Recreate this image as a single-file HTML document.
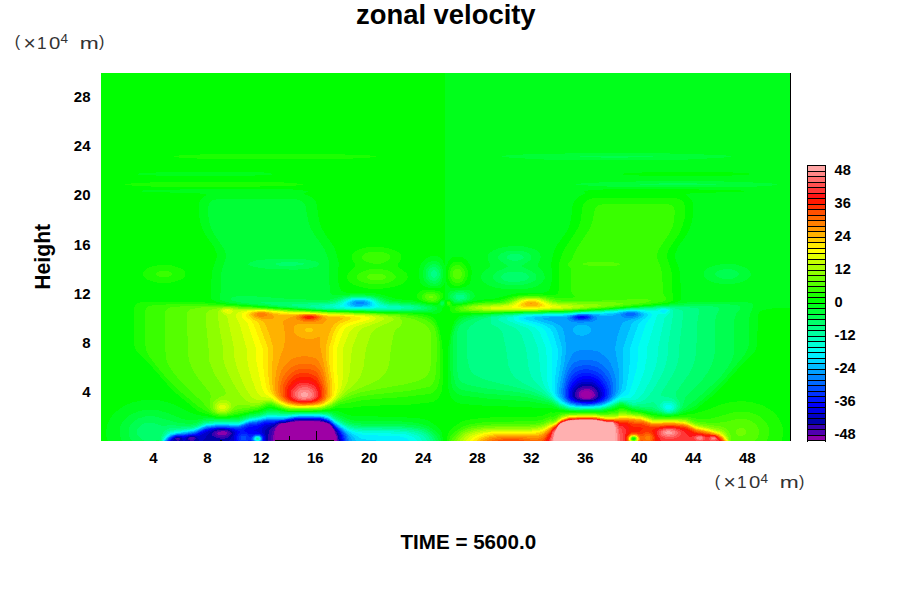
<!DOCTYPE html>
<html><head><meta charset="utf-8"><title>zonal velocity</title>
<style>
html,body{margin:0;padding:0;background:#fff}
svg{display:block}
text{font-family:"Liberation Sans",sans-serif;font-weight:700;fill:#000}
text.u{font-weight:400;fill:#333}
</style></head><body>
<svg width="900" height="600" viewBox="0 0 900 600">
<rect width="900" height="600" fill="#fff"/>
<g transform="translate(101,73) scale(0.5)" shape-rendering="crispEdges">
<rect width="1378" height="736" fill="#00ff1b"/>
<path fill="#00ff00" d="M0 0l689 0 -1 386 0 1 -1-3 -4-10 -5-5 -4-2 -6-1 -10 1 -10 5 -7 8 -4 10 -1 12 1 10 2 8 5 5 5 3 17 3 13-1 5-4 4-9 1 37 9 1 6 7 2 0 18-1 32-7 32-3 24-6 18-4 24-2 32 0 4-1 5-2 3-6 4-16 1-10 -3-22 6-26 6-12 18-25 6-12 4-14 3-27 4-10 3-4 4-4 13-6 2-2 -4-2 0-2 16-2 23-1 128-1 128 2 38 2 -24 2 -87 2 -17 2 0 2 8 6 5 8 1 10 0 16 -3 16 -5 14 -5 10 -17 24 -5 12 -1 6 1 6 7 18 2 12 2 36 1 10 -1 4 -1 2 -7 4 -14 3 -26 3 -125 10 -61 3 -174 5 -24 2 -10 2 -4 2 -6 6 -5 12 -4 16 -4 24 -1 18 -1 22 1 30 1 16 4 14 5 8 8 5 10 3 52 4 78 2 30 3 18-1 18 4 18 2 14 1 56 0 20-5 8-3 2-2 6 0 20 7 60 11 16 1 14-2 30-8 8-4 10-8 26-21 12-11 42-47 27-27 3-6 2-8 2-54 1-8 3-5 7-3 17-3 36-2 0 267 -694 0 -2-16 -2-5 -4-5 -8-6 -10-7 -10-4 -10-2 -38-3 -94-2 -12-2 -18-7 -6-1 -14-1 -24 2 -60 0 -34-7 -6 1 -16 6 -20 4 -20 6 -24 3 -16 0 -44-6 -14-5 -28-14 -12-5 -20-5 -20-1 -18 1 -18 4 -16 7 -14 10 -7 6 -6 8 -7 14 -1 8 -1 8 1 8 3 8 -14 0zM134 198l-50 2 -16 2 13 2 29 1 100 2 98-2 27-1 13-2 -22-3 -60-1 -68-1zM96 234l-25 2 21 2 93 2 25 2 1 2 -9 6 -3 4 -2 4 -1 8 0 14 2 18 5 14 6 12 17 24 5 12 0 10 -8 24 -2 18 -1 36 1 4 6 4 15 4 16 2 166 12 238 7 10 0 6-2 3-3 2-6 5-5 1-9 -3-2 -6 1 -6 9 -4 0 -20-3 -26-6 -32-3 -24-7 -18-4 -26-2 -34 0 -5-1 -4-2 -3-5 -5-19 0-10 3-20 -6-24 -5-12 -17-24 -8-14 -4-14 -4-28 -3-10 -3-4 -5-4 -15-6 0-2 6-2 2-2 -30-3 -88-1 -76 0zM1109 198l65-1 66 1 49 2 14 2 -14 2 -27 1 -94 2 -92-2 -25-1 -14-2 19-2zM704 368l10-1 10 2 9 7 6 10 3 12 -2 14 -3 10 -7 5 -12 3 -14 1 -6-2 -2-1 -3-4 -2-6 -1-10 0-12 1-10 5-12 4-4z"/>
<path fill="#1cff00" d="M227 162l107-1 114 1 79 2 23 2 0 2 -23 2 -45 2 -134 1 -134-1 -46-2 -23-2 0-2 23-2zM127 218l75-1 92 0 72 2 38 3 -1 2 -26 2 -115 2 -136 0 -52-2 -26-2 0-2 22-2zM987 250l33-1 116 0 12 1 8 2 5 2 4 4 3 8 0 10 -1 16 -4 14 -7 16 -19 28 -5 12 1 10 7 20 2 12 1 36 2 10 -1 4 -2 2 -12 4 -16 2 -110 10 -63 4 -223 5 -12-1 -4-1 -3-3 -2-8 -5-3 -1-3 0-4 3-2 2 0 3 2 3 7 2 1 46-8 46-4 26-7 18-3 26-2 36 2 6 0 5-2 1-2 1-4 2-22 -1-32 7-22 6-12 18-26 8-14 4-12 4-28 3-8 6-6 6-2zM543 348l17 0 16 3 12 4 9 5 3 4 1 6 -2 4 -5 8 0 4 3 4 11 8 4 4 1 4 0 4 -3 6 -8 6 -14 5 -16 3 -18 2 -20-1 -16-3 -12-4 -9-6 -4-6 -1-4 1-4 3-6 9-8 3-4 0-4 -5-8 -2-4 0-4 2-4 5-5 10-5 12-3zM706 378l8-1 8 2 7 7 4 8 1 10 -3 10 -5 7 -8 4 -8 1 -7-2 -5-5 -3-7 -1-12 2-10 4-8zM121 384l21 1 16 5 7 4 3 4 1 4 -1 4 -6 6 -10 4 -12 3 -14 1 -14-1 -12-3 -10-4 -6-6 -1-4 1-4 6-6 14-6zM648 434l16 0 14 3 4 3 2 2 1 4 -1 4 -6 5 -4 4 -4 2 -14-1 -15-4 -4-2 -4-4 -1-6 3-4 3-3 4-2zM88 458l42-1 68 1 63 6 131 9 60 4 172 4 22 2 13 3 7 4 5 8 6 16 4 20 3 28 1 22 -1 34 -3 20 -3 7 -4 6 -10 7 -8 1 -36 4 -92 3 -32 4 -20-1 -16 4 -18 2 -14 1 -56 0 -12-3 -18-6 -6 0 -22 8 -36 8 -32 5 -16-1 -26-7 -10-4 -8-6 -40-33 -14-15 -36-41 -22-21 -4-6 -3-8 -1-10 0-56 1-12 2-4 3-3 6-2zM1260 658l22-2 22 3 20 6 10 6 8 5 7 6 6 8 7 14 2 8 0 8 -1 8 -2 8 -670 0 3-14 2-5 4-5 12-9 10-6 10-3 10-2 36-3 94-2 12-2 16-7 2 2 16-3 28 1 60 0 20-3 8-3 2-2 4-1 6 1 16 6 20 3 21 5 25 3 12 0 48-6 24-7 28-11zM1064 730l-2 2 2 1 2 0 2-1 -2-2z"/>
<path fill="#39ff00" d="M212 222l24 0 -12 1zM1005 262l31-1 84 0 16 2 6 2 3 3 2 6 0 10 -1 12 -3 12 -7 14 -19 28 -5 12 1 10 7 19 2 11 1 16 0 22 7 10 0 2 -1 2 -3 2 -6 2 -27 4 -78 8 -85 6 -150 3 -40 0 -20-1 -8-2 -4-2 -1-2 1-2 2-2 12-3 30-5 46-3 8-2 20-7 18-3 16 0 16 0 46 6 20-1 5-2 0-2 -5-6 -2-6 0-10 0-30 -1-4 -5-6 0-2 2-4 6-6 6-14 4-8 19-28 6-10 5-12 5-24 2-6 5-5zM537 358l15-1 14 2 6 2 5 3 1 2 0 4 -2 3 -3 3 -13 5 -10 1 -12-2 -12-5 -3-3 -1-4 2-4 2-2zM711 384l5 0 6 4 4 5 2 7 -1 8 -3 6 -4 4 -6 2 -6-1 -5-3 -3-5 -2-7 1-8 2-6 5-4zM539 392l15-1 10 2 10 2 6 3 6 4 3 4 0 4 -5 5 -8 4 -12 3 -12 1 -12-1 -12-2 -10-4 -5-4 -1-2 0-4 4-5 10-5zM118 396l8-1 8 1 5 2 3 2 0 2 0 2 -3 2 -5 2 -8 1 -8-1 -5-2 -3-2 0-2 0-2 3-2zM652 438l10-1 10 3 5 4 1 4 0 2 -4 5 -6 3 -10 0 -10-3 -5-3 -2-2 0-4 3-4zM693 458l3-1 2 2 1 3 -1 1 -2 1 -2 0 -2-4zM152 462l62 1 228 14 156 5 31 2 20 4 11 5 7 7 5 11 4 15 2 18 0 40 -1 28 -3 14 -2 5 -4 5 -6 4 -6 2 -50 6 -59 4 -27 3 -42 8 -16 7 -19 4 -19 1 -50 0 -14-4 -18-6 -6-1 -22 9 -60 12 -14 1 -13-2 -14-6 -20-12 -45-38 -18-19 -22-27 -12-16 -5-10 -2-10 -1-16 0-50 1-6 1-4 6-4 10-2zM1035 674l1-2 6 0 18 5 22 3 24 7 28 2 36-2 20 4 12 1 12 0 11-2 31-9 12-3 12-1 12 1 10 2 8 3 9 5 7 6 5 6 4 8 1 6 0 8 -2 8 -3 6 -635 0 3-10 9-9 16-10 16-5 22-3 20-1 88-2 14-3 16-7 2 3 10-5 2-2 8-2 86 0 20-3 6-1zM1064 729l-2 1 -1 2 3 2 2 0 2-2 0-2z"/>
<path fill="#55ff00" d="M978 378l20-1 20 1 16 2 5 2 -3 2 -10 2 -26 1 -26-2 -8-1 -3-2 3-2zM708 392l4-1 4 1 3 2 2 4 1 6 -2 4 -2 3 -4 2 -6-1 -2-2 -2-4 0-8 2-4zM538 402l10-1 10 0 8 3 3 2 0 2 0 2 -3 2 -6 2 -10 1 -10-1 -6-2 -2-2 -1-2 1-2 2-2zM652 442l8-1 7 1 5 4 0 4 -2 3 -4 2 -6 0 -7-1 -3-2 -3-4 2-4zM837 448l19-2 20 1 14 2 22 5 16 2 48 0 100-4 18 1 5 1 0 2 -5 2 -10 2 -63 8 -95 7 -146 3 -50-2 -10-1 -4-3 0-2 3-2 16-4 19-3 48-2 10-3 14-5zM168 466l34-1 50 1 66 4 56 4 66 3 139 5 19 1 2 1 22 2 17 4 11 4 10 6 6 8 4 11 2 17 -1 42 -1 22 -3 14 -5 10 -6 4 -42 8 -68 7 -28 4 -16 4 -22 7 -20 11 -18 4 -28 1 -40-1 -16-4 -16-6 -6-1 -6 1 -16 7 -40 7 -22 6 -12 1 -10-2 -8-3 -6-5 -14-17 -26-23 -19-20 -16-20 -6-10 -4-10 -2-8 0-8 -1-70 1-12 3-4 6-3 10-1zM1036 676l0-1 6 0 18 4 20 3 26 7 24 1 40 0 22 7 26 3 10 0 20-2 24-6 8-1 8 1 13 4 9 7 5 9 1 4 0 6 -3 8 -6 6 -607 0 6-10 9-8 13-7 12-4 18-3 22-1 90-2 14-3 16-7 2 3 10-5 4-4 8-3 12-1 34-1 40 2 20-2 4-1zM1062 729l-1 3 1 2 4 1 2-1 1-2 0-2 -3-2z"/>
<path fill="#71ff00" d="M656 446l6 0 3 2 -1 2 -6 1 -2-1 -1-2zM848 448l14-1 16 2 12 2 20 6 14 1 106 1 15 1 -3 2 -10 2 -28 4 -42 4 -40 2 -142 3 -44-2 -10-3 -1-2 3-2 7-2 13-2 58-4 7-2 19-7zM236 468l16-1 22 2 46 2 54 4 68 3 115 4 41 3 2 2 25 5 18 8 6 4 6 6 4 8 2 12 -1 33 -1 23 -2 10 -3 6 -5 6 -6 4 -9 4 -23 6 -73 13 -24 5 -24 9 -14 7 -16 10 -16 5 -24 2 -44-1 -12-2 -22-10 -6-1 -6 2 -16 6 -40 5 -24 10 -10 0 -8-1 -9-5 -3-4 -2-4 -1-8 3-14 -2-6 -27-34 -8-14 -6-14 -3-16 -2-74 1-10 3-4 5-2 19-3zM1036 678l6-1 18 4 20 2 26 8 62 1 6 1 11 5 7 2 48 7 10 4 5 5 4 8 1 12 -554 0 5-8 9-9 12-6 12-3 22-3 20-1 72-1 14-1 12-2 16-8 2 3 10-5 2-3 6-4 8-2 10-1 32-1 38 3 16-2 2 1 8-2zM1064 728l-3 2 -1 2 1 2 3 1 4 0 2-3 0-2 -4-2zM1273 712l7-2 6 1 4 4 0 5 -2 3 -4 2 -6 1 -4-1 -3-3 -2-4 2-4z"/>
<path fill="#8eff00" d="M842 450l14-1 16 0 14 3 20 6 10 2 70 2 15 2 -4 2 -12 2 -37 4 -74 3 -94 1 -32-2 -11-2 -2-2 5-3 14-2 44-3 12-1 8-2 14-6zM237 470l15-2 22 3 42 0 70 5 66 3 82 3 33 2 31 4 2 6 2 2 1 2 -5 9 -9 7 -3 6 -6 30 -4 34 -5 12 -5 8 -9 8 -10 6 -51 22 -36 24 -14 6 -12 1 -30 1 -26-1 -12-2 -24-11 -6-1 -6 1 -14 6 -8 1 -10 0 -20-2 -4 1 -4 2 -9 8 -6 4 -7 2 -8 1 -8-2 -6-5 -3-4 0-6 2-6 5-5 6-4 12-5 1-2 1-2 -2-6 -21-32 -5-12 -5-12 -2-14 0-14 -6-60 1-10 4-4 4-2zM1036 680l6 0 14 2 24 3 26 7 46 0 18 2 19 8 47 9 6 2 6 4 4 5 3 6 3 8 -546 0 4-8 10-8 10-4 14-4 20-2 18-1 82-2 14-3 16-7 2 2 10-5 2-3 6-4 12-3 40-2 20 1 18 2 14-1 2 1 8-2zM1062 728l-2 2 -1 2 1 2 4 2 2 0 4-2 1-2 -1-2 -2-2z"/>
<path fill="#aaff00" d="M853 450l13 0 12 1 10 3 14 5 10 2 45 3 12 2 -5 2 -11 2 -21 2 -64 2 -88 1 -28-3 -6-2 3-2 11-2 40-2 12-2 8-2 16-7zM246 470l8 0 20 2 44 0 66 5 152 6 32 3 10 2 6 2 1 2 0 2 -3 2 -30 14 -6 4 -4 4 -3 6 -9 26 -5 38 -3 10 -3 8 -5 8 -5 6 -28 26 -20 16 -19 7 -26 2 -36-1 -8-1 -8-2 -26-12 -6 0 -18 5 -10 0 -6-1 -6-3 -6-4 -11-14 -12-20 -8-16 -6-14 -4-14 -1-10 0-14 -7-40 -4-30 1-4 2-2 3-2zM243 654l7 0 6 3 4 4 1 5 -3 6 -5 4 -7 2 -8 0 -4-1 -4-3 -3-4 0-4 1-4 4-4 6-3zM1036 682l6-1 15 3 23 2 26 8 42-1 22 2 20 9 48 11 6 3 6 6 3 4 3 8 -189 0 3-2 1-2 -1-3 -4-2 -4 0 -3 3 1 4 3 2 -346 0 5-8 8-6 10-4 16-4 16-2 20-1 68 0 14-2 12-3 14-7 2 2 10-5 2-3 6-4 6-3 10-2 38-1 18 1 18 3 14-1 2 0 8-1z"/>
<path fill="#c6ff00" d="M845 452l15-1 14 1 10 2 20 8 39 4 2 2 -9 2 -26 2 -52 2 -78-1 -2-1 -9 0 -9-2 4-2 14-1 2-1 20-1 14-1 8-3 15-7zM244 472l10-1 18 4 30-2 18 0 58 5 154 6 20 2 9 2 4 2 1 2 -2 2 -8 4 -32 12 -6 4 -4 6 -12 30 -5 50 -4 18 -8 16 -12 16 -13 10 -18 8 -20 2 -32 0 -14-1 -8-2 -12-5 -18-9 -6 0 -14 2 -7-1 -8-4 -5-6 -7-10 -8-16 -11-28 -5-20 -1-20 -6-28 -7-32 -2-4 -7-4 -4-4 0-2 1-2zM237 660l7-1 6 1 5 4 0 2 0 4 -4 4 -5 2 -6 0 -6-2 -3-4 0-4 3-4zM1036 684l6-1 38 4 26 8 40-1 24 3 20 9 26 5 22 6 6 4 6 5 5 10 -186 0 2-2 1-4 -2-2 -4-2 -4 1 -3 3 0 4 2 2 -338 0 5-7 8-6 12-4 14-3 16-2 24-1 60 0 18-3 10-4 10-5 2 1 5-2 15-11 14-4 40-1 16 1 22 3 16-1 4-1z"/>
<path fill="#e3ff00" d="M855 452l11 0 12 2 22 9 24 5 -9 2 -53 3 -82-2 -1-1 1-1 24-2 12-2 8-2 16-8zM245 474l5-2 6 0 5 2 2 2 1 2 -4 3 -8 0 -7-3 -1-2zM301 474l21 0 56 4 40 1 34 3 76 3 12 1 7 2 3 2 0 2 -4 3 -6 3 -22 6 -10 4 -8 6 -4 6 -12 30 -1 26 0 38 -2 12 -4 12 -8 12 -6 6 -6 4 -9 5 -8 2 -24 2 -28 0 -18-3 -14-6 -18-10 -17-2 -5-4 -6-10 -9-24 -6-22 -3-18 -1-20 -14-48 -6-12 -1-6 2-4 4-2 8-2zM239 664l5-1 3 1 2 2 0 4 -2 2 -3 1 -6-1 -2-2 0-2 1-2zM938 686l36-1 18 1 18 3 14-1 2 1 8-2 2-2 6 0 38 3 26 8 38 0 24 2 6 2 14 6 30 7 20 6 10 7 6 10 -184 0 2-2 0-4 -2-3 -4-1 -4 0 -4 4 0 4 2 2 -331 0 5-6 8-5 12-4 14-3 38-3 56 0 16-2 8-3 14-7 2 0 6-3 14-10z"/>
<path fill="#ffff00" d="M849 454l13-1 14 2 25 11 2 2 -11 2 -36 2 -32-2 -4-2 20-11zM250 476l2-2 4 2 -2 1zM296 476l24-2 52 5 46 1 34 3 42 1 34 3 7 1 3 2 0 2 -4 2 -28 8 -11 4 -8 6 -4 8 -11 30 -1 26 3 42 -1 14 -3 12 -8 10 -14 9 -12 4 -28 1 -28-1 -10-2 -12-5 -26-16 -5-4 -3-6 -3-8 -7-32 -4-22 0-22 -17-50 -3-4 -7-6 -2-4 0-4 2-2zM952 686l32 0 30 4 10-1 4 1 6-1 2-2 6-1 38 4 26 8 36-1 26 2 21 9 29 6 20 7 10 7 5 8 -182 0 2-2 0-4 -3-3 -4-2 -4 1 -4 3 -1 3 2 4 -323 0 6-6 7-4 11-4 14-3 36-2 52 0 14-1 8-3 16-9 2 0 6-3 4-2 6-6 6-3 12-3z"/>
<path fill="#ffeb00" d="M847 456l13-2 12 1 7 3 11 8 -4 2 -18 2 -22 0 -13-2 0-2 3-4 6-4zM306 476l18-1 30 4 22 2 48 0 28 3 18 0 30 2 15 2 6 2 -3 3 -24 7 -9 4 -7 6 -6 11 -9 29 0 24 4 46 0 16 -2 10 -6 8 -13 8 -12 4 -26 1 -26-1 -12-3 -14-6 -9-7 -11-10 -5-10 -4-22 -4-32 0-26 -18-48 -4-6 -10-8 -2-4 1-2 2-2 5-2zM935 688l17-1 22-1 18 2 18 3 14-1 2 1 16-4 38 4 20 7 6 1 34-1 24 1 8 2 14 7 6 2 24 5 20 6 4 2 6 5 6 8 -180 0 1-2 1-4 -4-4 -4-1 -4 0 -4 3 -2 4 3 4 -316 0 5-5 8-4 10-4 12-2 36-2 48 1 14-2 8-3 16-9 9-4 11-9z"/>
<path fill="#ffcd00" d="M853 456l11 0 10 2 6 4 2 2 -1 2 -6 2 -15 1 -14-1 -5-2 -1-2 3-4 4-2zM303 478l17-2 46 6 56-1 30 4 16 0 20 2 8 1 5 2 -1 2 -3 2 -19 7 -7 7 -6 12 -9 30 0 28 6 38 1 16 -1 8 -1 6 -2 4 -4 4 -9 7 -10 3 -20 2 -22 0 -16-2 -10-3 -13-7 -9-8 -4-6 -3-6 -3-14 -3-38 1-32 -18-48 -3-4 -13-8 -4-4 -1-2 1-2 2-2zM941 688l35-1 16 1 22 4 10-1 4 0 10-2 6 0 36 3 20 7 6 1 34-2 26 3 6 1 18 9 28 6 18 5 9 6 5 8 -177 0 2-4 -1-3 -3-3 -5-2 -6 2 -3 2 -1 4 2 4 -308 0 4-4 8-4 10-3 12-2 34-2 44 1 14-2 8-3 26-15 6-5 6-4 10-4z"/>
<path fill="#ffb200" d="M853 458l7-1 8 1 4 2 2 2 0 2 -3 2 -5 1 -15-1 -4-2 0-2 2-2zM309 478l7-1 10 0 28 6 12 1 16 0 26-2 14 0 17 2 15 3 14 0 15 3 0 2 -16 10 -6 8 -6 16 -6 24 2 26 7 44 1 14 -1 8 -1 6 -7 8 -8 5 -12 3 -20 1 -18 0 -16-3 -7-2 -11-6 -7-6 -4-6 -2-6 -3-18 0-28 3-40 -8-26 -7-18 -3-6 -5-4 -16-7 -4-3 -2-2 1-2 2-2zM412 509l-3 3 -1 2 1 2 2 2 7 1 3-1 2-2 1-2 -1-2 -2-2 -5-1zM950 688l28 0 14 1 22 3 10-1 4 1 16-2 36 3 20 7 6 1 34-2 26 3 7 2 15 7 30 7 18 5 7 5 6 8 -176 0 3-4 -2-4 -4-3 -4-1 -6 1 -4 3 -1 4 2 4 -301 0 5-4 9-4 22-4 30-1 40 2 14-2 8-3 17-12 11-6 2-3 8-5 14-5z"/>
<path fill="#ff9800" d="M857 462l3-2 4 2 -4 1zM319 478l11 1 10 3 6 4 1 2 -1 2 -6 2 -20-1 -10-3 -5-4 1-2 2-2zM394 484l18-2 18 1 17 5 4 4 0 2 -3 4 -6 5 -22-2 -26 1 -5 2 -2 2 -2 6 0 4 4 6 5 4 6 3 8 2 8 1 10-1 10-3 2 2 1 20 11 52 4 24 1 12 -2 10 -4 6 -7 5 -8 3 -14 2 -18 0 -14-1 -14-3 -10-4 -8-6 -4-6 -3-8 -1-18 2-20 8-30 7-18 3-14 0-14 -4-24 3-4 13-6zM935 690l15-1 22-1 20 1 20 4 12-1 2 1 18-2 36 3 20 7 6 1 32-2 22 2 12 2 18 9 26 5 18 6 8 4 6 8 -174 0 2-4 -1-4 -3-3 -6-2 -6 1 -4 4 -1 4 1 4 -293 0 6-4 7-3 22-3 30-1 34 2 14-2 8-3 18-14 10-6 2-3 6-4z"/>
<path fill="#ff8000" d="M314 480l12 0 5 2 1 2 -2 2 -4 1 -10 0 -5-3 0-2zM400 484l14-1 14 1 9 2 4 2 1 2 0 2 -3 2 -9 3 -12 1 -14-1 -10-3 -3-2 -1-2 1-2 2-2zM393 568l15-2 16 3 8 3 6 9 6 13 2 7 4 19 2 16 -1 8 -1 6 -3 4 -6 4 -11 4 -12 1 -16 0 -14-1 -11-2 -7-3 -8-5 -5-6 -3-10 0-12 2-16 5-14 7-10 8-8 8-5zM938 690l34-1 20 1 20 3 12 0 2 1 22-1 34 3 22 7 34-2 24 3 10 2 18 8 44 10 8 5 5 7 -171 0 2-4 -2-4 -4-4 -6-1 -6 1 -4 3 -2 5 2 4 -286 0 6-3 8-3 22-3 26 0 30 3 14-1 8-4 16-13 2-3 10-6 2-3 4-3 8-4z"/>
<path fill="#ff6900" d="M406 484l10-1 10 1 7 2 4 2 0 2 -1 2 -4 2 -14 2 -14-1 -6-3 -2-2 0-2 2-2zM397 582l13-1 12 2 8 3 7 8 7 16 5 24 0 8 -1 6 -2 4 -5 4 -9 4 -8 1 -14 1 -14 0 -12-2 -10-3 -6-3 -6-6 -3-8 -1-10 2-12 5-12 7-10 8-7 8-4zM944 690l30-1 18 2 20 3 12-1 2 2 24-1 16 3 16 1 16 5 8 2 30-2 22 1 12 2 20 9 42 10 8 4 6 7 -169 0 2-4 -1-4 -6-5 -6-1 -6 1 -4 3 -3 4 2 6 -277 0 14-4 22-3 24 1 26 4 10-1 8-3 18-17 2-3 10-6 2-3 6-5 14-5zM1092 725l-4 3 0 4 4 3 4-1 2-2 0-4 -2-2z"/>
<path fill="#ff5000" d="M403 486l9-2 10 1 7 1 4 2 0 2 -3 2 -6 2 -14 0 -6-2 -4-2 0-2zM398 592l10-1 10 1 10 4 6 6 8 15 4 17 0 8 -1 6 -2 4 -3 3 -7 3 -9 2 -12 1 -14 0 -12-2 -10-3 -7-4 -4-4 -2-8 0-8 2-10 4-8 6-8 7-7 8-5zM953 690l23 0 16 1 18 3 14 0 2 1 8 0 2 1 6-1 10 1 14 3 16 1 22 7 32-3 26 2 9 2 19 9 40 8 8 4 6 7 -144 0 2-4 0-4 -2-3 -4-3 -6 0 -8 5 -10-5 -6-1 -6 1 -5 4 -2 4 1 6 -173 0 19-21 2-4 10-7 2-3 6-4 16-6zM809 732l23 0 19 4 -62 0 9-2zM1079 736l3-2 4 2z"/>
<path fill="#ff3200" d="M407 486l9-1 8 1 5 2 0 2 -7 3 -12-1 -6-2 0-2zM400 600l10-1 10 3 10 5 4 5 7 14 2 12 -1 10 -5 6 -7 3 -8 2 -12 1 -12 0 -18-4 -7-4 -4-4 -2-6 0-8 3-8 4-8 6-8 5-4 7-4zM935 692l17-1 22-1 18 2 18 3 14-1 2 2 8 0 2 2 6-1 8 1 16 4 16 1 20 6 30-4 20 1 18 3 16 8 6 2 38 6 8 5 5 6 -139 0 2-6 -3-6 -5-4 -6-2 -4 1 -8 4 -12-3 -8 1 -4 2 -4 5 0 4 1 4 -167 0 6-10 8-9 2-5 10-7 2-3 6-5zM805 736l15-1 14 1z"/>
<path fill="#ff1900" d="M414 486l4 0 6 1 1 1 0 2 -9 2 -7-2 -1-2zM398 608l8-1 8 0 10 4 7 5 5 8 4 12 0 10 -4 6 -6 4 -6 1 -20 2 -10-1 -9-2 -5-2 -6-4 -2-4 -1-6 1-6 3-8 9-11 6-4zM938 692l36-1 18 1 18 3 14 0 2 2 8 0 2 3 8-1 8 1 14 8 14 1 3 1 1 2 -6 5 -4 1 -8-1 -6 2 -4 3 -5 6 -1 4 1 4 -162 0 4-8 7-9 2-5 10-8 2-4 8-5zM1120 708l20-2 25 4 7 2 16 8 24 4 16 1 8 5 5 6 -133 0 1-4 -1-4 -6-12 0-2 8-4z"/>
<path fill="#ff1414" d="M400 614l8-1 8 1 8 4 6 5 5 7 2 8 0 8 -3 5 -5 3 -6 2 -17 2 -16-2 -6-2 -6-4 -2-4 -1-4 1-6 2-6 5-6 5-5 6-3zM943 692l33-1 16 1 18 4 14 0 2 2 8 0 2 4 8 0 7 2 3 2 2 4 1 6 -8 12 0 4 1 4 -158 0 8-14 2-7 10-8 3-5 5-4 8-3 8-2zM1132 708l12 0 14 3 11 3 17 8 14 1 12 3 10-1 5 1 5 2 8 8 -127 0 0-4 -5-12 0-4 2-3 6-2z"/>
<path fill="#ff3737" d="M398 620l8-1 8 1 8 3 6 4 4 6 2 7 0 6 -3 4 -3 2 -6 3 -14 1 -16-1 -10-5 -1-2 -2-4 0-4 2-6 7-8zM951 692l21-1 18 2 20 3 14 0 2 2 8 2 2 5 8 2 5 5 1 6 -3 12 0 6 -152 0 5-11 2-8 10-10 2-3 2-2 6-4 10-4zM1127 710l15 0 14 2 11 6 9 9 2 1 16-4 8 1 10 4 8-3 6 0 4 2 7 8 -116 0 -8-12 -2-6 1-2 4-3z"/>
<path fill="#ff5050" d="M402 624l6 0 6 1 6 2 4 3 4 4 2 5 1 5 -2 4 -2 2 -5 3 -12 2 -13-1 -10-4 -2-2 -2-4 1-4 2-6 6-6zM961 692l19 0 12 1 18 4 14 0 2 2 8 3 2 7 2 1 4 4 1 6 0 16 -146 0 6-18 9-10 2-4 5-4 7-3 10-3zM1126 712l12-1 12 2 7 3 2 2 1 4 -1 2 -3 3 -10 4 -10 1 -8-1 -9-5 -3-3 -1-3 2-4zM1190 726l6-1 6 1 4 2 2 2 0 2 -2 2 -4 2 -10 0 -4-2 -2-4 1-2zM1218 728l6-1 5 1 2 2 0 4 -1 2 -11 0 -4-4 1-2z"/>
<path fill="#ff6e6e" d="M398 630l6-2 6 0 6 2 4 2 4 4 2 4 0 4 -1 4 -7 4 -8 1 -10 0 -8-3 -4-4 0-6 4-6zM937 694l37-2 18 2 18 3 14 0 2 3 8 6 3 16 1 14 -138 0 2-11 2-5 8-11 2-4 8-6zM1125 714l9-2 10 1 7 3 3 4 -2 4 -6 3 -8 1 -8 0 -6-2 -5-4 0-4 2-2zM1196 726l4 0 3 2 2 2 -1 2 -2 2 -4 1 -4-1 -4-2 -1-2 1-2zM1222 728l4 0 3 2 1 2 -4 2 -6-1 -1-1 0-2z"/>
<path fill="#ff8787" d="M400 634l8-1 8 2 5 5 0 6 -2 2 -3 2 -6 1 -8 0 -6-2 -3-3 0-4 2-4zM941 694l35-1 16 1 18 4 14 0 6 8 3 6 1 24 -132 0 4-16 6-10 2-5 6-5 4-2 10-3zM1126 716l6-2 8 1 6 1 2 2 1 2 -1 2 -4 2 -6 1 -6 0 -5-1 -3-2 -1-2 0-2zM1193 728l5-1 3 1 1 2 -2 3 -4 0 -3-1 -1-1 0-1zM1221 730l3-1 3 1 0 2 -3 1 -2-1z"/>
<path fill="#ffa5a5" d="M401 640l5-2 6 2 2 2 0 4 -6 2 -6-1 -2-1 -1-2zM948 694l30 0 14 1 18 3 14 1 6 11 1 10 0 16 -128 0 4-16 7-14 2-2 6-4 8-3 8-2zM1129 718l5-2 4 1 4 1 1 2 -3 2 -6 1 -4-1 -2-2z"/>
<path fill="#00ff36" d="M869 162l119-2 150 1 101 3 21 2 0 2 -28 2 -58 3 -144 1 -144-1 -58-3 -26-2 0-2 18-2zM1019 218l101-2 126 1 86 3 19 2 0 2 -19 2 -40 2 -110 1 -170-2 -56-3 -5 0 -1-2 21-2zM215 236l59 0 -34 1zM234 252l30-1 104 0 20 1 13 4 5 4 3 6 5 28 5 16 7 12 21 30 3 8 7 20 -1 30 2 28 2 4 4 2 6 1 42-3 30 2 16 3 20 7 8 2 42 3 34 6 8 3 2 2 0 2 -2 2 -6 3 -16 1 -50 0 -146-3 -82-5 -90-8 -24-3 -13-3 -4-2 -2-4 2-10 0-32 3-16 7-20 1-10 -5-12 -18-26 -6-12 -5-16 -2-18 1-12 3-8 6-4zM805 348l19-2 22 1 16 4 8 3 5 4 3 4 2 6 -2 6 -4 8 0 4 10 12 3 8 0 6 -4 6 -9 7 -12 5 -16 2 -22 1 -18-1 -18-3 -14-5 -9-6 -4-6 -1-4 1-4 4-6 12-10 2-4 -6-12 0-4 1-4 3-4 7-5 10-4zM662 376l8 0 6 3 5 7 3 8 0 12 -2 10 -4 7 -4 2 -4 1 -10 0 -8-4 -5-6 -3-10 0-10 4-10 6-7zM1249 382l21 1 10 3 8 3 5 3 4 4 2 4 0 6 -6 6 -11 6 -14 3 -16 1 -16-1 -14-3 -11-6 -5-6 -1-4 1-4 2-4 6-4 14-5 10-2zM712 434l16-1 10 2 4 2 3 3 2 4 0 4 -3 4 -4 2 -10 4 -12 2 -12-1 -13-9 0-6 1-4 4-3zM682 456l2 0 2 1 1 3 -1 4 -4 2 -2 0 -2-4 1-4zM1181 458l55-1 44 0 20 3 4 2 1 4 -6 14 -2 8 -1 46 -1 12 -3 8 -5 10 -39 47 -22 23 -38 32 -8 4 -24 11 -14 3 -15 0 -43-9 -20-3 -18-7 -6-1 -4 1 -10 5 -22 5 -38 1 -30-1 -20-4 -16-7 -42-7 -86-6 -50-6 -6-2 -6-3 -4-5 -3-5 -3-12 -1-22 -1-42 2-23 4-17 6-14 6-7 10-5 22-4 32-2 64-3 82-1 72-4 138-11zM86 674l16-1 14 2 20 6 27 11 17 3 10-1 18-4 36 2 29-2 23-7 20-3 22-8 34 6 84-1 14 4 24 11 12 3 14 1 82 1 22 2 18 3 14 5 14 10 8 9 3 10 -639 0 -4-10 -1-10 2-10 4-8 9-10 10-6 12-5z"/>
<path fill="#00ff50" d="M957 166l49-1 54 0 43 1 0 2 -49 1 -54 0 -43-1zM1076 222l78-2 76 2 0 2 -62 1 -84-1 -6 0zM813 356l13-1 14 0 12 4 8 5 1 4 -2 6 -18 12 2 2 19 9 7 5 2 6 -2 6 -7 4 -10 4 -12 2 -12 1 -14-1 -12-2 -10-4 -6-4 -2-2 -1-4 3-6 8-6 19-8 1-2 -16-11 -3-3 -1-4 2-4 4-3zM347 372l33-1 30 2 20 4 6 3 1 2 -1 2 -4 3 -16 4 -22 2 -18 0 -40-1 -22-3 -14-3 -5-2 -1-2 2-2 4-2 10-3 18-2zM658 384l8-2 6 2 5 4 3 6 1 10 -2 8 -3 5 -6 4 -6 0 -6-1 -6-6 -3-6 0-8 1-6 4-6zM1238 394l12-2 12 1 9 3 3 3 2 3 -1 2 -3 3 -8 4 -10 1 -12-1 -9-3 -3-3 -2-3 2-4zM708 438l12-2 10 2 4 2 4 4 1 4 -1 2 -4 4 -10 3 -10 1 -8-1 -4-3 -3-4 -1-4 4-5zM276 446l22 0 82 6 60 2 18-1 24-6 16-2 16-1 16 1 24 3 19 8 7 2 52 4 22 4 6 2 2 2 0 2 -3 2 -9 2 -52 1 -154-3 -82-6 -76-8 -22-4 -4-2 -1-2 1-2 4-2zM681 458l1-1 3 1 1 2 -2 4 -2 0 -3-2 0-2zM1190 462l42 0 26 1 14 1 5 2 2 2 -1 4 -8 10 -3 10 -2 72 -3 10 -8 14 -12 16 -12 13 -39 35 -28 22 -13 7 -12 2 -12-1 -22-5 -42-7 -14-6 -6-2 -6 1 -10 5 -10 3 -14 3 -36 1 -30-1 -18-4 -18-10 -40-10 -28-4 -66-5 -44-7 -4-2 -4-3 -4-5 -2-6 -3-12 -1-20 -1-44 2-18 3-12 6-10 6-6 13-6 17-4 28-2 2-1 66-3 91-2 67-4 56-4 106-7zM333 676l9-1 30 4 34-1 48 1 8 2 30 15 14 4 14 1 82 1 36 4 14 5 11 7 8 8 5 10 -614 0 -4-6 -3-8 0-6 1-6 6-10 6-5 6-4 14-4 10-1 10 1 48 13 12 1 10 1 12-2 14-6 6-1 64-1 22-7 22-4z"/>
<path fill="#00ff6b" d="M820 362l10-1 8 2 6 3 1 2 0 2 -5 3 -6 2 -8 1 -8-2 -5-2 -2-2 0-2 1-2 2-2zM352 380l16-2 18 0 17 2 4 2 -7 2 -22 2 -22-1 -8-3zM663 388l5 0 4 2 3 4 2 6 0 6 -3 6 -4 3 -4 1 -4-1 -4-2 -3-5 -1-4 0-6 2-4 3-4zM816 398l14-1 14 2 6 2 4 3 1 2 0 4 -4 4 -5 2 -16 2 -16-1 -8-2 -4-3 -2-4 2-4 6-4zM713 440l7-1 8 2 4 3 1 2 -1 4 -4 4 -6 1 -8 1 -6-2 -4-4 0-4 4-4zM505 446l17 0 18 1 14 4 14 6 8 2 56 5 11 2 7 2 2 2 -1 2 -9 2 -42 2 -2 0 -138-2 -34-2 -65-6 -28-4 -18-4 15-1 76 1 42 0 13-2 27-8zM1151 466l27-1 37 1 17 2 4 2 1 2 -6 12 -2 8 -2 70 -2 10 -4 12 -7 14 -10 14 -13 14 -23 24 -5 16 -3 6 -5 4 -8 4 -9 2 -10-1 -26-8 -40-6 -14-5 -6-2 -6 1 -18 8 -16 4 -34 1 -32-1 -18-5 -16-10 -16-7 -26-8 -28-5 -68-8 -29-6 -15-6 -5-8 -2-12 -1-18 -1-46 1-16 3-8 4-6 9-6 14-6 12-3 24-3 2-2 2 0 64-3 88-2 72-4 56-5 64-4zM334 678l8-1 28 4 36-2 45 1 9 2 10 6 22 12 14 3 14 2 80 1 34 4 14 3 10 6 8 8 4 9 -554 0 -2-3 -7 3 -18 0 -5-2 -6-4 -4-4 -2-6 0-6 4-6 8-6 8-3 8 0 6 1 16 6 18-2 18 2 18 0 14-3 14-6 6-1 16-1 48-1 22-7 20-3z"/>
<path fill="#00ff86" d="M662 396l4-2 4 2 1 2 1 6 -2 4 -2 1 -4 0 -4-3 -1-6zM712 444l4-1 6 0 4 2 1 3 0 2 -3 2 -6 1 -4 0 -4-2 -1-3 0-2zM499 448l19-1 20 1 12 3 14 7 8 3 10 1 44 3 12 3 3 2 -4 2 -5 1 -32 1 -2 1 -94-1 -63-2 -41-4 -23-4 9-2 56-2 16-1 10-2 18-6zM1119 468l11-1 48 2 12 1 6 2 1 2 -4 22 -3 66 -3 14 -4 12 -7 14 -26 36 -1 6 8 14 1 8 -1 4 -3 4 -4 3 -6 2 -8 2 -6-1 -8-2 -18-9 -40-3 -22-8 -6 1 -16 8 -18 5 -38 1 -18 0 -12-2 -16-5 -16-11 -14-7 -20-9 -16-5 -74-18 -19-6 -8-4 -7-5 -4-5 -4-8 -3-16 -2-28 0-20 2-10 6-8 14-10 10-4 15-4 2-2 62-4 84-2 66-4 66-5 46-2zM334 680l6-1 28 3 38-2 36 1 10 0 8 3 9 6 19 10 8 4 10 2 16 2 80 1 20 2 18 3 9 4 7 5 5 5 4 8 -546 0 2-10 4-8 5-4 8-4 42-2 12-3 14-6 10-2 18-1 40 0 22-7 22-4z"/>
<path fill="#00ffa0" d="M511 448l15 0 12 2 10 2 15 8 7 2 10 2 35 2 10 2 2 2 -8 2 -19 1 -2 1 -84 0 -72-3 -22-3 -5-2 8-2 41-3 8-3 18-7 10-2zM1111 470l15-2 12 1 23 5 3 2 1 2 -9 72 0 16 -3 14 -4 12 -6 12 -20 32 -3 6 0 2 1 2 15 3 6 2 6 4 4 5 2 6 -2 6 -5 4 -7 3 -8 0 -9-3 -8-6 -7-10 -4-2 -18 4 -14 1 -10 0 -16-6 -6 0 -32 13 -8 1 -18 1 -22 0 -20-1 -10-2 -12-5 -36-25 -41-21 -9-6 -7-6 -5-8 -5-12 -2-14 -3-22 -7-30 -2-4 -4-4 -5-4 -12-6 -1-4 1-9 17-3 21-2 30-2 80-2 76-4 56-4zM333 682l7-1 28 2 18-1 24-1 30 0 10 1 8 3 10 7 22 12 6 2 10 3 16 1 80 2 18 2 16 3 8 3 7 4 5 6 3 6 -538 0 2-8 5-7 6-5 6-2 42-4 10-3 14-7 10-1 20-2 38 1 22-8 23-4z"/>
<path fill="#00ffbb" d="M502 450l18-1 16 1 12 4 12 7 6 2 12 3 20 0 2 2 4 0 3 2 -7 0 -2 2 -80 1 -42-1 -22-2 -13-2 1-2 28-5 18-8zM1119 470l9-1 8 1 8 4 1 4 -12 72 0 16 -3 16 -4 12 -6 12 -16 28 -12 16 -6 4 -8 4 -8 1 -8 0 -16-4 -6 0 -20 9 -12 4 -20 3 -32 0 -22-2 -18-8 -21-17 -25-24 -5-6 -5-8 -5-18 -5-38 -9-26 -4-6 -3-4 -6-4 -31-14 -2-2 -1-2 2-2 6-2 38-5 86-2 70-3 62-5 48-1zM1125 656l5-1 6 0 9 3 5 6 0 4 -2 4 -4 3 -6 2 -8 0 -6-3 -4-4 -2-6 2-4zM397 682l43 0 14 3 4 1 11 8 21 12 8 3 12 3 12 1 76 2 27 3 9 3 8 3 7 6 4 6 -531 0 2-6 4-6 4-4 6-3 8-2 30-3 10-2 24-9 24-3 40 1 22-8 20-3 20-5 30 1zM312 730l-1 2 1 1 3-1 -1-2z"/>
<path fill="#00ffd6" d="M511 450l15 0 14 3 8 3 10 7 15 5 -2 2 -49 2 -36-1 -23-3 1-2 12-4 15-8 9-3zM1115 472l9-2 6 1 6 1 2 2 1 2 -2 4 -7 6 -3 4 -13 60 -1 18 -3 18 -10 26 -14 26 -8 10 -6 4 -4 2 -8 1 -14-2 -6 0 -19 9 -13 5 -8 2 -14 1 -28 0 -22-2 -18-7 -13-11 -13-16 -5-8 -4-10 -4-18 -5-48 -12-30 -4-6 -6-4 -34-13 -6-3 -1-2 1-2 5-2 25-4 42-2 42 0 34-3 36-1 64-5 46 1zM1128 660l6-1 8 2 4 4 0 5 -4 4 -4 1 -6 0 -4-2 -4-3 -1-4 2-4zM381 684l29-2 28 1 10 1 10 4 10 7 16 9 12 7 8 2 16 3 66 1 26 2 12 3 10 4 5 4 4 6 -520 0 6-10 9-7 8-2 39-5 7-2 12-6 6-2 26-2 36 1 6-2 18-7 20-3 20-5 30 2zM312 729l-2 1 0 2 2 2 2 0 2-2 0-1 -2-2z"/>
<path fill="#00fff0" d="M503 452l19-1 16 2 9 5 9 8 0 2 -14 2 -30 1 -24-2 -9-1 -2-2 14-10zM1121 472l10 0 4 2 0 2 -1 2 -4 3 -16 2 -2 2 -5 15 -15 50 -1 22 -4 22 -10 28 -10 20 -5 6 -4 2 -18 1 -18 9 -12 5 -8 2 -16 2 -28 0 -22-2 -18-8 -10-9 -9-12 -5-14 -2-14 0-34 -2-26 -12-30 -4-6 -8-6 -32-10 -7-4 -2-2 0-2 3-2 9-2 13-1 34-2 42-1 36-2 40-1 60-5 26 1 20 2zM1130 664l4-1 6 1 2 3 0 3 -4 2 -6 0 -3-2 -1-2zM390 684l30-1 20 1 8 1 10 4 12 9 24 14 14 5 14 2 58 2 24 1 10 2 8 3 6 4 4 5 -508 0 2-4 4-6 4-3 6-3 46-7 24-10 26-2 36 1 7-2 17-7 20-3 20-4 30 1zM310 729l-1 3 1 2 4 1 2-1 1-2 0-2 -3-2z"/>
<path fill="#00f0ff" d="M511 452l13 0 12 2 8 4 3 4 1 4 -3 2 -5 1 -20 1 -22-1 -7-1 -5-2 0-2 1-2 7-6 8-3zM1120 474l8-1 3 1 1 2 -4 3 -6 0 -3-1 -1-2zM1043 476l21-2 21 2 11 2 3 2 3 4 -2 5 -6 7 -4 6 -16 48 0 20 -3 22 -9 32 -6 16 -4 4 -14 5 -19 11 -13 5 -10 2 -24 2 -26-2 -14-3 -14-7 -6-5 -4-6 -4-8 -3-8 0-14 2-42 -1-24 -11-30 -5-8 -6-4 -14-6 -24-6 -6-3 -1-3 3-2 12-2 32-2 44-1 34-3 46 0zM380 686l28-2 30 1 8 1 12 4 10 8 28 17 20 7 10 2 54 2 18 1 12 3 8 6 -493 0 5-8 4-3 6-4 46-7 24-10 26-2 36 1 6-1 18-7 18-3 22-5 30 1zM312 728l-4 2 0 3 1 1 3 1 4 0 2-3 0-2 -3-2z"/>
<path fill="#00d7ff" d="M505 454l13-1 13 1 9 4 2 2 0 4 -2 2 -6 2 -16 1 -18-1 -6-2 -2-2 0-2 3-4zM1050 476l14-1 14 2 12 3 3 2 1 2 -2 4 -12 8 -5 6 -17 48 0 24 -3 28 -4 24 -2 8 -3 4 -14 12 -10 7 -14 6 -10 3 -24 2 -26-1 -14-3 -14-8 -8-8 -3-6 -2-8 0-16 6-44 0-24 -9-30 -5-8 -8-6 -15-6 -24-6 -5-2 -1-2 6-2 28-3 44 0 38-4 44 0 20-1zM386 686l32-1 22 1 8 1 10 4 10 8 28 18 24 14 16 3 27 2 -249 0 4-2 1-2 -1-2 -2-2 -4-1 -4 2 -1 3 1 2 4 2 -186 0 6-8 8-6 8-1 38-6 24-10 28-3 34 2 6-1 18-7 18-3 20-5 32 1z"/>
<path fill="#00bcff" d="M512 454l11 0 9 2 4 2 2 2 0 2 -2 2 -4 2 -10 1 -16 0 -8-3 -1-2 0-2 2-2 5-2zM1042 478l16-2 14 1 11 3 2 2 1 2 -4 5 -17 9 -4 4 -17 48 1 34 -1 32 -2 14 -4 10 -7 8 -10 8 -13 6 -10 3 -22 2 -24-1 -14-2 -12-6 -7-6 -4-4 -2-6 -1-6 1-16 7-42 2-24 0-4 -8-30 -5-10 -7-6 -31-10 -5-2 -1-2 6-2 11-1 28-1 14 0 34-4 14-1 26 2 14 0 14-2zM397 686l17 0 26 1 16 4 45 33 6 6 4 6 -195 0 3-2 0-4 -3-3 -4-1 -4 2 -2 2 1 4 3 2 -183 0 5-7 8-5 10-3 36-5 24-10 28-3 34 2 6-1 18-7 18-3 20-4 32 0z"/>
<path fill="#00a0ff" d="M509 456l9-1 8 1 5 2 2 2 0 2 -4 2 -9 2 -12-1 -6-3 0-2 2-2zM1048 478l12-1 11 1 6 2 2 2 1 2 -2 2 -6 4 -22 6 -6 3 -4 7 -7 20 -5 24 7 40 1 30 -1 14 -2 6 -4 6 -8 8 -11 6 -8 3 -14 2 -18 1 -20-1 -12-3 -9-4 -7-6 -3-4 -2-6 -1-6 2-16 9-42 4-28 -5-32 -4-10 -5-4 -15-7 -19-5 0-2 27-2 14 1 18-5 18-2 16 0 26 4 18 0zM954 504l-6 2 -4 6 1 6 5 5 8 2 8 0 8-3 5-4 1-6 -2-4 -3-2 -9-3zM383 688l21-2 22 1 16 1 12 3 6 3 30 24 9 10 4 8 -186 0 3-2 0-4 -4-4 -4 0 -4 1 -3 3 1 4 2 2 -180 0 6-7 8-5 44-7 6-2 12-6 6-2 28-3 36 2 22-8 18-3 20-4 14 0 18 0z"/>
<path fill="#0085ff" d="M510 458l10-1 5 1 2 2 -3 2 -10 1 -4-1 -2-2zM1058 478l6 0 8 2 2 2 0 2 -1 2 -5 2 -10 2 -12-1 -7-3 0-2 7-4zM946 484l16-2 14 1 12 3 3 2 1 2 0 2 -2 2 -6 3 -18 2 -14 0 -10-1 -6-2 -4-4 0-2 2-2zM965 554l19 1 10 2 6 4 8 6 7 7 4 6 4 10 5 14 2 12 0 12 -1 10 -2 6 -5 6 -8 6 -8 4 -12 3 -16 2 -16 0 -14-2 -10-2 -6-3 -7-6 -3-6 -2-10 2-12 6-27 6-18 8-15 4-6 10-3zM391 688l19-1 28 1 8 1 10 4 32 25 6 8 3 10 -178 0 2-4 -1-3 -4-3 -4-1 -4 1 -4 4 1 4 2 2 -178 0 5-6 8-5 8-2 20-2 16-3 6-2 18-8 28-3 36 2 22-8 16-2 22-5 14 1 18-1z"/>
<path fill="#0069ff" d="M1053 480l12 0 4 2 0 2 -5 2 -6 1 -7-1 -3-2 0-2zM951 484l13-1 12 1 6 2 3 2 0 2 -1 2 -6 3 -14 2 -16-1 -9-4 -1-2 1-2 4-2zM959 574l9-1 8 0 16 4 12 7 10 11 4 7 4 10 2 10 1 10 -1 8 -2 6 -3 4 -5 4 -10 5 -10 3 -14 2 -16 0 -14-1 -10-3 -8-4 -5-6 -3-8 1-12 4-20 5-14 6-10 6-7zM401 688l39 1 16 5 30 24 5 8 3 10 -174 0 2-4 -2-4 -4-3 -4 0 -5 1 -4 4 0 2 3 4 -175 0 5-7 8-4 8-2 16-1 18-3 6-2 14-6 10-3 24-2 34 2 22-8 18-3 20-4 14 1 18-1 20-4z"/>
<path fill="#004eff" d="M956 484l10 0 8 1 6 2 1 3 -3 2 -4 2 -12 1 -13-1 -5-2 -2-2 1-2 3-2zM966 584l14 1 14 4 10 8 9 11 4 8 2 8 1 14 -1 6 -2 4 -3 4 -6 4 -8 3 -13 3 -13 1 -12 0 -12-2 -10-2 -6-4 -5-5 -2-8 1-10 3-16 5-12 6-9 6-6 8-3zM386 690l20-1 24 0 12 1 12 4 6 3 23 21 6 8 2 10 -170 0 2-4 -2-4 -3-3 -6-1 -4 1 -5 3 -1 4 2 4 -172 0 6-7 8-4 8-1 14-1 20-3 18-8 6-2 16-2 12-1 34 2 22-8 16-2 18-4 6-1 12 1 20-2z"/>
<path fill="#0032ff" d="M950 486l8-1 8 0 8 1 3 2 0 2 -5 2 -14 2 -8-2 -4-2 0-2zM958 594l12-2 12 2 12 5 9 7 8 12 5 14 0 6 -1 6 -1 4 -4 4 -6 4 -10 4 -12 2 -12 0 -22-2 -10-4 -5-4 -3-6 0-8 2-12 4-10 4-8 6-8 6-3zM394 690l18-1 26 1 8 2 10 3 6 5 19 18 5 8 3 10 -167 0 1-4 -1-4 -4-4 -6-1 -6 2 -4 3 -2 4 3 4 -170 0 5-6 10-5 6-1 12 0 22-3 6-2 14-7 10-2 24-2 32 3 6-2 16-6 16-2 18-5 6-1 12 1zM282 725l-3 3 0 4 2 2 3 1 5-1 2-4 -1-3 -4-2z"/>
<path fill="#0019ff" d="M954 486l12-1 4 1 3 2 0 2 -5 2 -10 0 -8-2 0-2zM964 600l10-1 10 3 10 5 8 7 7 12 3 10 -1 10 -4 6 -7 4 -8 3 -10 2 -12 0 -12-1 -10-2 -6-2 -6-4 -3-6 0-8 2-10 3-8 5-8 5-5 8-5zM407 690l33 1 16 5 6 5 17 17 5 8 3 10 -164 0 1-4 -1-4 -5-5 -4-1 -6 1 -10 5 -2 0 -6-6 -6-1 -6 3 -3 4 0 4 3 4 -144 0 6-6 8-4 6-1 12 0 24-3 18-9 16-3 22-1 30 3 6-1 14-6 16-2 16-5 8-1 12 0 38-6zM295 734l1-1 2 1 2 2 -8 0z"/>
<path fill="#0000ff" d="M954 488l8-2 7 2 -1 2 -6 1 -8-1zM966 606l10 0 8 2 8 4 8 8 6 9 3 9 -1 8 -4 6 -8 4 -6 2 -12 2 -10 0 -10-1 -10-2 -6-3 -5-4 -2-6 1-8 2-7 4-8 4-5 6-5 6-3zM388 692l18-1 26 1 10 0 12 4 8 6 16 16 4 8 2 10 -160 0 1-6 -2-4 -3-3 -8-2 -14 2 -12-7 0-2 5-4 5-2 16-2 16-6 8-1 12 0 8-3 14-1zM231 710l11-1 10 1 12 2 13 4 1 2 -6 10 0 4 2 4 -138 0 6-6 8-4 6 0 10 1 12-3 12-1 20-9z"/>
<path fill="#0000e6" d="M966 612l8 0 8 1 8 4 6 5 6 8 3 8 0 8 -3 4 -5 4 -7 3 -8 1 -10 1 -18-2 -6-2 -6-3 -3-4 -1-6 1-6 3-8 5-6 5-5 6-3zM396 692l18 0 24 1 8 1 10 4 6 4 14 16 4 8 2 10 -157 0 1-6 -1-4 -3-3 -10-6 -7-1 2-2 5-2 12-8 4-2 8-1 10-1 10-3zM226 712l12-2 10 1 12 1 10 4 2 2 0 2 -3 10 1 6 -133 0 7-6 6-3 6-1 10 2 12-3 15-1 17-8z"/>
<path fill="#0000c8" d="M962 618l8-1 8 0 8 3 6 4 6 7 3 7 0 8 -2 4 -5 3 -6 3 -14 2 -16-1 -8-3 -4-2 -4-4 -1-4 1-6 2-6 6-8 6-4zM384 694l20-2 22 1 16 1 12 4 8 5 12 15 4 8 2 10 -153 0 1-4 0-4 -7-12 1-4 4-5 7-3 13-2 10-4 14-1zM232 712l18 0 10 2 5 2 3 4 -3 12 0 4 -126 0 7-6 4-2 6-1 10 3 14-5 16 1 21-10z"/>
<path fill="#0000aa" d="M963 622l7-1 8 1 6 2 6 4 4 4 3 6 1 6 -1 4 -5 4 -4 2 -14 3 -14-1 -6-2 -6-3 -3-3 -1-4 1-6 2-4 3-4 4-4zM391 694l19-1 28 1 8 2 10 3 7 7 9 12 4 8 2 10 -148 0 0-6 -2-13 2-5 4-4 12-4 10-5zM229 714l13-2 12 2 7 2 3 2 1 4 -9 14 -55 0 3-1 4-4 4-7 4-4 7-4zM181 726l5 0 5 2 3 2 3 6 -53 0 3-6 4-2 7 1 3 1 3 5 2 0 2 0 3-5 3-2z"/>
<path fill="#3700af" d="M963 626l7-1 6 0 6 2 5 3 4 4 2 4 2 6 -2 4 -2 2 -5 3 -12 2 -14-1 -10-4 -1-2 -1-4 0-4 2-4 5-6zM401 694l19 0 20 1 16 5 7 6 8 12 3 8 2 10 -142 0 1-14 2-8 4-4 11-8 8-3 10 0 16-4zM235 714l11 0 8 1 6 3 1 2 0 2 -3 4 -4 3 -10 3 -12-2 -9-4 -2-2 1-4 6-4zM176 728l6-1 4 0 4 3 0 2 -4 3 -8 0 -3-1 -2-2 1-2zM149 730l3-1 4 0 2 1 1 2 -3 3 -4 0 -2-1 -2-2z"/>
<path fill="#5000af" d="M962 630l6-1 6 0 6 1 4 2 4 4 2 4 1 4 -1 4 -7 4 -9 2 -10-1 -10-3 -3-4 1-6 4-6zM387 696l19-1 24 0 12 1 12 4 8 6 6 10 5 10 1 10 -134 0 1-12 1-6 3-6 7-8 3-2 5-2 10-1zM233 716l9-1 9 1 5 2 1 2 0 2 -3 3 -6 2 -6 1 -8-1 -6-3 -1-2 0-2 2-2zM179 728l5 0 3 2 -1 2 -4 2 -4-1 -2-1 0-2zM152 730l3 0 1 2 -4 0 -1 0z"/>
<path fill="#8c00aa" d="M969 632l9 1 6 4 3 5 0 4 -2 2 -7 4 -8 0 -8-1 -5-3 -2-4 2-6 5-4zM396 696l18-1 24 2 8 1 10 4 6 6 5 8 4 10 2 10 -129 0 1-12 2-8 3-8 4-4 6-3zM234 718l10-2 7 2 2 2 -1 2 -3 2 -9 1 -4-1 -3-2 -1-2z"/>
<path fill="#ffb0b0" d="M956 694l24 0 12 1 18 4 14 0 4 13 1 24 -124 0 4-18 5-11 4-4 6-4 10-3z"/>
<path fill="#9e00a5" d="M969 636l7 1 5 3 1 4 -2 4 -5 2 -5 0 -8-2 -2-4 1-4 3-2zM385 698l21-2 20 1 16 1 12 4 6 4 5 8 4 10 2 12 -124 0 2-20 2-6 2-4 7-4z"/>
</g>
<path d="M790.5 73V441" stroke="#000" stroke-width="1" shape-rendering="crispEdges"/>
<path d="M275 440.5H334M289.5 436V441M316.5 431V441M220 440.5H222" stroke="#000" stroke-width="1" shape-rendering="crispEdges"/>
<g shape-rendering="crispEdges">
<rect x="807" y="165.00" width="19" height="5.71" fill="#ffa5a5"/>
<rect x="807" y="170.51" width="19" height="5.71" fill="#ff8787"/>
<rect x="807" y="176.02" width="19" height="5.71" fill="#ff6e6e"/>
<rect x="807" y="181.53" width="19" height="5.71" fill="#ff5050"/>
<rect x="807" y="187.04" width="19" height="5.71" fill="#ff3737"/>
<rect x="807" y="192.55" width="19" height="5.71" fill="#ff1414"/>
<rect x="807" y="198.06" width="19" height="5.71" fill="#ff1900"/>
<rect x="807" y="203.57" width="19" height="5.71" fill="#ff3200"/>
<rect x="807" y="209.08" width="19" height="5.71" fill="#ff5000"/>
<rect x="807" y="214.59" width="19" height="5.71" fill="#ff6900"/>
<rect x="807" y="220.10" width="19" height="5.71" fill="#ff8000"/>
<rect x="807" y="225.61" width="19" height="5.71" fill="#ff9800"/>
<rect x="807" y="231.12" width="19" height="5.71" fill="#ffb200"/>
<rect x="807" y="236.63" width="19" height="5.71" fill="#ffcd00"/>
<rect x="807" y="242.14" width="19" height="5.71" fill="#ffeb00"/>
<rect x="807" y="247.65" width="19" height="5.71" fill="#ffff00"/>
<rect x="807" y="253.16" width="19" height="5.71" fill="#e3ff00"/>
<rect x="807" y="258.67" width="19" height="5.71" fill="#c6ff00"/>
<rect x="807" y="264.18" width="19" height="5.71" fill="#aaff00"/>
<rect x="807" y="269.69" width="19" height="5.71" fill="#8eff00"/>
<rect x="807" y="275.20" width="19" height="5.71" fill="#71ff00"/>
<rect x="807" y="280.71" width="19" height="5.71" fill="#55ff00"/>
<rect x="807" y="286.22" width="19" height="5.71" fill="#39ff00"/>
<rect x="807" y="291.73" width="19" height="5.71" fill="#1cff00"/>
<rect x="807" y="297.24" width="19" height="5.71" fill="#00ff00"/>
<rect x="807" y="302.75" width="19" height="5.71" fill="#00ff1b"/>
<rect x="807" y="308.26" width="19" height="5.71" fill="#00ff36"/>
<rect x="807" y="313.77" width="19" height="5.71" fill="#00ff50"/>
<rect x="807" y="319.28" width="19" height="5.71" fill="#00ff6b"/>
<rect x="807" y="324.79" width="19" height="5.71" fill="#00ff86"/>
<rect x="807" y="330.30" width="19" height="5.71" fill="#00ffa0"/>
<rect x="807" y="335.81" width="19" height="5.71" fill="#00ffbb"/>
<rect x="807" y="341.32" width="19" height="5.71" fill="#00ffd6"/>
<rect x="807" y="346.83" width="19" height="5.71" fill="#00fff0"/>
<rect x="807" y="352.34" width="19" height="5.71" fill="#00f0ff"/>
<rect x="807" y="357.85" width="19" height="5.71" fill="#00d7ff"/>
<rect x="807" y="363.36" width="19" height="5.71" fill="#00bcff"/>
<rect x="807" y="368.87" width="19" height="5.71" fill="#00a0ff"/>
<rect x="807" y="374.38" width="19" height="5.71" fill="#0085ff"/>
<rect x="807" y="379.89" width="19" height="5.71" fill="#0069ff"/>
<rect x="807" y="385.40" width="19" height="5.71" fill="#004eff"/>
<rect x="807" y="390.91" width="19" height="5.71" fill="#0032ff"/>
<rect x="807" y="396.42" width="19" height="5.71" fill="#0019ff"/>
<rect x="807" y="401.93" width="19" height="5.71" fill="#0000ff"/>
<rect x="807" y="407.44" width="19" height="5.71" fill="#0000e6"/>
<rect x="807" y="412.95" width="19" height="5.71" fill="#0000c8"/>
<rect x="807" y="418.46" width="19" height="5.71" fill="#0000aa"/>
<rect x="807" y="423.97" width="19" height="5.71" fill="#3700af"/>
<rect x="807" y="429.48" width="19" height="5.71" fill="#5000af"/>
<rect x="807" y="434.99" width="19" height="5.71" fill="#8c00aa"/>
<path d="M807 165.5H826" stroke="#000" stroke-width="1"/>
<path d="M807 171.5H826" stroke="#000" stroke-width="1"/>
<path d="M807 176.5H826" stroke="#000" stroke-width="1"/>
<path d="M807 182.5H826" stroke="#000" stroke-width="1"/>
<path d="M807 187.5H826" stroke="#000" stroke-width="1"/>
<path d="M807 193.5H826" stroke="#000" stroke-width="1"/>
<path d="M807 198.5H826" stroke="#000" stroke-width="1"/>
<path d="M807 204.5H826" stroke="#000" stroke-width="1"/>
<path d="M807 209.5H826" stroke="#000" stroke-width="1"/>
<path d="M807 215.5H826" stroke="#000" stroke-width="1"/>
<path d="M807 220.5H826" stroke="#000" stroke-width="1"/>
<path d="M807 226.5H826" stroke="#000" stroke-width="1"/>
<path d="M807 231.5H826" stroke="#000" stroke-width="1"/>
<path d="M807 237.5H826" stroke="#000" stroke-width="1"/>
<path d="M807 242.5H826" stroke="#000" stroke-width="1"/>
<path d="M807 248.5H826" stroke="#000" stroke-width="1"/>
<path d="M807 253.5H826" stroke="#000" stroke-width="1"/>
<path d="M807 259.5H826" stroke="#000" stroke-width="1"/>
<path d="M807 264.5H826" stroke="#000" stroke-width="1"/>
<path d="M807 270.5H826" stroke="#000" stroke-width="1"/>
<path d="M807 275.5H826" stroke="#000" stroke-width="1"/>
<path d="M807 281.5H826" stroke="#000" stroke-width="1"/>
<path d="M807 286.5H826" stroke="#000" stroke-width="1"/>
<path d="M807 292.5H826" stroke="#000" stroke-width="1"/>
<path d="M807 297.5H826" stroke="#000" stroke-width="1"/>
<path d="M807 303.5H826" stroke="#000" stroke-width="1"/>
<path d="M807 308.5H826" stroke="#000" stroke-width="1"/>
<path d="M807 314.5H826" stroke="#000" stroke-width="1"/>
<path d="M807 319.5H826" stroke="#000" stroke-width="1"/>
<path d="M807 325.5H826" stroke="#000" stroke-width="1"/>
<path d="M807 330.5H826" stroke="#000" stroke-width="1"/>
<path d="M807 336.5H826" stroke="#000" stroke-width="1"/>
<path d="M807 341.5H826" stroke="#000" stroke-width="1"/>
<path d="M807 347.5H826" stroke="#000" stroke-width="1"/>
<path d="M807 352.5H826" stroke="#000" stroke-width="1"/>
<path d="M807 358.5H826" stroke="#000" stroke-width="1"/>
<path d="M807 363.5H826" stroke="#000" stroke-width="1"/>
<path d="M807 369.5H826" stroke="#000" stroke-width="1"/>
<path d="M807 374.5H826" stroke="#000" stroke-width="1"/>
<path d="M807 380.5H826" stroke="#000" stroke-width="1"/>
<path d="M807 385.5H826" stroke="#000" stroke-width="1"/>
<path d="M807 391.5H826" stroke="#000" stroke-width="1"/>
<path d="M807 396.5H826" stroke="#000" stroke-width="1"/>
<path d="M807 402.5H826" stroke="#000" stroke-width="1"/>
<path d="M807 407.5H826" stroke="#000" stroke-width="1"/>
<path d="M807 413.5H826" stroke="#000" stroke-width="1"/>
<path d="M807 418.5H826" stroke="#000" stroke-width="1"/>
<path d="M807 424.5H826" stroke="#000" stroke-width="1"/>
<path d="M807 429.5H826" stroke="#000" stroke-width="1"/>
<path d="M807 435.5H826" stroke="#000" stroke-width="1"/>
<path d="M807 440.5H826" stroke="#000" stroke-width="1"/>
<path d="M807.6 165V441.5 M825.4 165V441.5" stroke="#000" stroke-width="1.4"/>
</g>
<g font-size="14.6"><text x="834.6" y="174.8">48</text><text x="834.6" y="207.9">36</text><text x="834.6" y="240.9">24</text><text x="834.6" y="274.0">12</text><text x="834.6" y="307.1">0</text><text x="834.6" y="340.1">-12</text><text x="834.6" y="373.2">-24</text><text x="834.6" y="406.2">-36</text><text x="834.6" y="439.3">-48</text></g>
<g font-size="15"><text x="153.3" y="462.6" text-anchor="middle">4</text><text x="207.3" y="462.6" text-anchor="middle">8</text><text x="261.3" y="462.6" text-anchor="middle">12</text><text x="315.3" y="462.6" text-anchor="middle">16</text><text x="369.3" y="462.6" text-anchor="middle">20</text><text x="423.3" y="462.6" text-anchor="middle">24</text><text x="477.3" y="462.6" text-anchor="middle">28</text><text x="531.3" y="462.6" text-anchor="middle">32</text><text x="585.3" y="462.6" text-anchor="middle">36</text><text x="639.3" y="462.6" text-anchor="middle">40</text><text x="693.3" y="462.6" text-anchor="middle">44</text><text x="747.3" y="462.6" text-anchor="middle">48</text>
<text x="90.5" y="397.4" text-anchor="end">4</text><text x="90.5" y="348.1" text-anchor="end">8</text><text x="90.5" y="298.9" text-anchor="end">12</text><text x="90.5" y="249.6" text-anchor="end">16</text><text x="90.5" y="200.3" text-anchor="end">20</text><text x="90.5" y="151.0" text-anchor="end">24</text><text x="90.5" y="101.7" text-anchor="end">28</text></g>
<text x="445.8" y="23.7" font-size="27.4" text-anchor="middle">zonal velocity</text>
<text x="468.3" y="548.6" font-size="20.6" text-anchor="middle">TIME = 5600.0</text>
<text transform="translate(49.8,256.8) rotate(-90)" font-size="21.2" text-anchor="middle">Height</text>
<text transform="translate(0,0.0)" class="u"><tspan x="14.8" y="47.4" font-size="16">(</tspan><tspan x="23.6" y="49.6" font-size="21">×</tspan><tspan x="37.0" y="48.7" font-size="17.2">1</tspan><tspan x="48.9" y="48.7" font-size="17.2" textLength="11.3" lengthAdjust="spacingAndGlyphs">0</tspan><tspan x="60.4" y="43.4" font-size="13.5">4</tspan><tspan x="79.8" y="48.7" font-size="17.2" textLength="19.0" lengthAdjust="spacingAndGlyphs">m</tspan><tspan x="98.9" y="47.4" font-size="16">)</tspan></text>
<text transform="translate(700,439.3)" class="u"><tspan x="14.8" y="47.4" font-size="16">(</tspan><tspan x="23.6" y="49.6" font-size="21">×</tspan><tspan x="37.0" y="48.7" font-size="17.2">1</tspan><tspan x="48.9" y="48.7" font-size="17.2" textLength="11.3" lengthAdjust="spacingAndGlyphs">0</tspan><tspan x="60.4" y="43.4" font-size="13.5">4</tspan><tspan x="79.8" y="48.7" font-size="17.2" textLength="19.0" lengthAdjust="spacingAndGlyphs">m</tspan><tspan x="98.9" y="47.4" font-size="16">)</tspan></text>
</svg>
</body></html>
